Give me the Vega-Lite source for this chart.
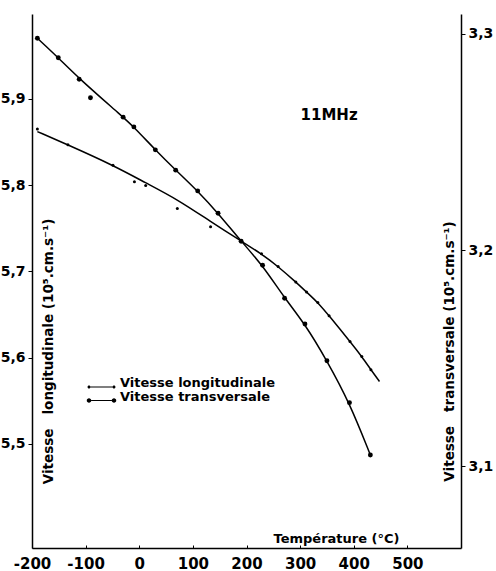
{
  "$schema": "https://vega.github.io/schema/vega-lite/v6.json",
  "width": 429,
  "height": 534,
  "autosize": {"type": "none"},
  "padding": {"left": 32, "top": 14, "right": 35, "bottom": 23},
  "background": "white",
  "config": {
    "view": {"stroke": null},
    "font": "DejaVu Sans",
    "axis": {
      "domainColor": "black",
      "domainWidth": 1.5,
      "tickColor": "black",
      "grid": false,
      "labelColor": "black",
      "labelFont": "DejaVu Sans",
      "labelFontWeight": "bold",
      "labelFontSize": 14,
      "labelOverlap": false,
      "labelFlush": false,
      "titleColor": "black",
      "titleFont": "DejaVu Sans",
      "titleFontWeight": "bold",
      "titleFontSize": 13
    },
    "legend": {
      "title": null,
      "orient": "none",
      "labelFont": "DejaVu Sans",
      "labelFontWeight": "bold",
      "labelFontSize": 13,
      "labelColor": "black",
      "labelBaseline": "alphabetic",
      "labelOffset": 6,
      "padding": 0,
      "symbolSize": 625,
      "symbolStrokeWidth": 0,
      "symbolFillColor": "black",
      "symbolOpacity": 1
    }
  },
  "datasets": {
    "points": [
      {"series": "Vitesse transversale", "T": -190, "V": 3.298},
      {"series": "Vitesse transversale", "T": -151, "V": 3.289},
      {"series": "Vitesse transversale", "T": -112, "V": 3.279},
      {"series": "Vitesse transversale", "T": -91, "V": 3.2705},
      {"series": "Vitesse transversale", "T": -30, "V": 3.2615},
      {"series": "Vitesse transversale", "T": -10, "V": 3.257},
      {"series": "Vitesse transversale", "T": 30, "V": 3.2464},
      {"series": "Vitesse transversale", "T": 68, "V": 3.237},
      {"series": "Vitesse transversale", "T": 109, "V": 3.2274},
      {"series": "Vitesse transversale", "T": 147, "V": 3.2171},
      {"series": "Vitesse transversale", "T": 190, "V": 3.2041},
      {"series": "Vitesse transversale", "T": 230, "V": 3.193},
      {"series": "Vitesse transversale", "T": 271, "V": 3.1778},
      {"series": "Vitesse transversale", "T": 309, "V": 3.1659},
      {"series": "Vitesse transversale", "T": 350, "V": 3.1489},
      {"series": "Vitesse transversale", "T": 392, "V": 3.1295},
      {"series": "Vitesse transversale", "T": 431, "V": 3.1053},
      {"series": "Vitesse longitudinale", "T": -190, "V": 5.8652},
      {"series": "Vitesse longitudinale", "T": -133, "V": 5.8467},
      {"series": "Vitesse longitudinale", "T": -49, "V": 5.8231},
      {"series": "Vitesse longitudinale", "T": -9, "V": 5.8038},
      {"series": "Vitesse longitudinale", "T": 12, "V": 5.7995},
      {"series": "Vitesse longitudinale", "T": 71, "V": 5.7728},
      {"series": "Vitesse longitudinale", "T": 133, "V": 5.7516},
      {"series": "Vitesse longitudinale", "T": 190, "V": 5.735},
      {"series": "Vitesse longitudinale", "T": 228, "V": 5.7203},
      {"series": "Vitesse longitudinale", "T": 259, "V": 5.7056},
      {"series": "Vitesse longitudinale", "T": 292, "V": 5.6875},
      {"series": "Vitesse longitudinale", "T": 312, "V": 5.6759},
      {"series": "Vitesse longitudinale", "T": 333, "V": 5.6638},
      {"series": "Vitesse longitudinale", "T": 354, "V": 5.6484},
      {"series": "Vitesse longitudinale", "T": 393, "V": 5.6186},
      {"series": "Vitesse longitudinale", "T": 415, "V": 5.6012},
      {"series": "Vitesse longitudinale", "T": 432, "V": 5.5858}
    ],
    "curves": [
      {"series": "Vitesse transversale", "T": -190, "V": 3.298},
      {"series": "Vitesse transversale", "T": -151, "V": 3.289},
      {"series": "Vitesse transversale", "T": -112, "V": 3.2793},
      {"series": "Vitesse transversale", "T": -30, "V": 3.2615},
      {"series": "Vitesse transversale", "T": -10, "V": 3.2569},
      {"series": "Vitesse transversale", "T": 30, "V": 3.2464},
      {"series": "Vitesse transversale", "T": 68, "V": 3.237},
      {"series": "Vitesse transversale", "T": 109, "V": 3.2274},
      {"series": "Vitesse transversale", "T": 147, "V": 3.2171},
      {"series": "Vitesse transversale", "T": 190, "V": 3.2041},
      {"series": "Vitesse transversale", "T": 230, "V": 3.193},
      {"series": "Vitesse transversale", "T": 271, "V": 3.1778},
      {"series": "Vitesse transversale", "T": 309, "V": 3.1659},
      {"series": "Vitesse transversale", "T": 350, "V": 3.1489},
      {"series": "Vitesse transversale", "T": 392, "V": 3.1295},
      {"series": "Vitesse transversale", "T": 431, "V": 3.1053},
      {"series": "Vitesse longitudinale", "T": -190, "V": 5.8621},
      {"series": "Vitesse longitudinale", "T": -133, "V": 5.8467},
      {"series": "Vitesse longitudinale", "T": -49, "V": 5.8231},
      {"series": "Vitesse longitudinale", "T": 12, "V": 5.8026},
      {"series": "Vitesse longitudinale", "T": 71, "V": 5.7835},
      {"series": "Vitesse longitudinale", "T": 133, "V": 5.7577},
      {"series": "Vitesse longitudinale", "T": 190, "V": 5.735},
      {"series": "Vitesse longitudinale", "T": 228, "V": 5.7203},
      {"series": "Vitesse longitudinale", "T": 259, "V": 5.7056},
      {"series": "Vitesse longitudinale", "T": 292, "V": 5.6875},
      {"series": "Vitesse longitudinale", "T": 312, "V": 5.6759},
      {"series": "Vitesse longitudinale", "T": 333, "V": 5.6638},
      {"series": "Vitesse longitudinale", "T": 354, "V": 5.6484},
      {"series": "Vitesse longitudinale", "T": 393, "V": 5.6186},
      {"series": "Vitesse longitudinale", "T": 415, "V": 5.6012},
      {"series": "Vitesse longitudinale", "T": 432, "V": 5.5858},
      {"series": "Vitesse longitudinale", "T": 448, "V": 5.5722}
    ],
    "notes": [
      {"label": "11MHz", "T": 354, "V": 5.8815}
    ]
  },
  "layer": [
    {
      "layer": [
        {
          "data": {"name": "curves"},
          "transform": [{"filter": "datum.series === 'Vitesse longitudinale'"}],
          "mark": {"type": "line", "color": "black", "strokeWidth": 1.5, "interpolate": "basis"},
          "encoding": {
            "x": {"field": "T", "type": "quantitative", "scale": {"domain": [-200, 600], "nice": false, "zero": false},
              "axis": {"orient": "bottom", "values": [-200, -100, 0, 100, 200, 300, 400, 500], "tickSize": -3, "labelPadding": 23, "labelBaseline": "alphabetic", "labelFontSize": 15,
                "labelExpr": "datum.value < 0 ? '-' + abs(datum.value) : '' + datum.value",
                "title": "Température (°C)", "titleFontSize": 13, "titleX": 304, "titleY": -10, "titleAlign": "center", "titleBaseline": "middle"}},
            "y": {"field": "V", "type": "quantitative", "scale": {"domain": [5.379, 5.9985], "nice": false, "zero": false},
              "axis": {"orient": "left", "values": [5.5, 5.6, 5.7, 5.8, 5.9], "tickSize": 4, "labelPadding": 3,
                "labelExpr": "replace(format(datum.value, '.1f'), '.', ',')",
                "title": "Vitesse\u00a0\u00a0\u00a0longitudinale (10⁵.cm.s⁻¹)", "titleFontSize": 13.5, "titleAngle": 270, "titleX": 16, "titleY": 337, "titleAlign": "center", "titleBaseline": "middle"}}
          }
        },
        {
          "data": {"name": "points"},
          "transform": [{"filter": "datum.series === 'Vitesse longitudinale'"}],
          "mark": {"type": "point", "filled": true, "color": "black", "opacity": 1, "size": 9},
          "encoding": {
            "x": {"field": "T", "type": "quantitative"},
            "y": {"field": "V", "type": "quantitative"}
          }
        },
        {
          "data": {"name": "notes"},
          "mark": {"type": "text", "font": "DejaVu Sans", "fontWeight": "bold", "fontSize": 15, "color": "black", "align": "center", "baseline": "middle"},
          "encoding": {
            "x": {"field": "T", "type": "quantitative"},
            "y": {"field": "V", "type": "quantitative"},
            "text": {"field": "label"}
          }
        },
        {
          "data": {"name": "points"},
          "transform": [{"filter": "datum.T > 100000"}],
          "mark": {"type": "point", "filled": true, "color": "black", "opacity": 1},
          "encoding": {
            "shape": {"field": "series", "type": "nominal",
              "scale": {"domain": ["Vitesse longitudinale"],
                "range": ["M-0.88,-0.045L0.88,-0.045L0.88,0.045L-0.88,0.045ZM-1.12,0a0.12,0.12 0 1,0 0.24,0a0.12,0.12 0 1,0 -0.24,0ZM0.88,0a0.12,0.12 0 1,0 0.24,0a0.12,0.12 0 1,0 -0.24,0Z"]},
              "legend": {"legendX": 57, "legendY": 360.5}}
          }
        }
      ]
    },
    {
      "layer": [
        {
          "data": {"name": "curves"},
          "transform": [{"filter": "datum.series === 'Vitesse transversale'"}],
          "mark": {"type": "line", "color": "black", "strokeWidth": 1.5, "interpolate": "basis"},
          "encoding": {
            "x": {"field": "T", "type": "quantitative"},
            "y": {"field": "V", "type": "quantitative", "scale": {"domain": [3.0623, 3.3092], "nice": false, "zero": false},
              "axis": {"orient": "right", "values": [3.1, 3.2, 3.3], "tickSize": 4, "labelPadding": 3,
                "labelExpr": "replace(format(datum.value, '.1f'), '.', ',')",
                "title": "Vitesse\u00a0\u00a0\u00a0transversale (10⁵.cm.s⁻¹)", "titleFontSize": 13.5, "titleAngle": 270, "titleX": -12, "titleY": 337, "titleAlign": "center", "titleBaseline": "middle"}}
          }
        },
        {
          "data": {"name": "points"},
          "transform": [{"filter": "datum.series === 'Vitesse transversale'"}],
          "mark": {"type": "point", "filled": true, "color": "black", "opacity": 1, "size": 24},
          "encoding": {
            "x": {"field": "T", "type": "quantitative"},
            "y": {"field": "V", "type": "quantitative"}
          }
        },
        {
          "data": {"name": "points"},
          "transform": [{"filter": "datum.T > 100000"}],
          "mark": {"type": "point", "filled": true, "color": "black", "opacity": 1},
          "encoding": {
            "shape": {"field": "series", "type": "nominal",
              "scale": {"domain": ["Vitesse transversale"],
                "range": ["M-0.82,-0.045L0.82,-0.045L0.82,0.045L-0.82,0.045ZM-1.18,0a0.18,0.18 0 1,0 0.36,0a0.18,0.18 0 1,0 -0.36,0ZM0.82,0a0.18,0.18 0 1,0 0.36,0a0.18,0.18 0 1,0 -0.36,0Z"]},
              "legend": {"legendX": 57, "legendY": 374}}
          }
        }
      ]
    }
  ],
  "resolve": {"scale": {"y": "independent", "shape": "independent"}, "legend": {"shape": "independent"}}
}
